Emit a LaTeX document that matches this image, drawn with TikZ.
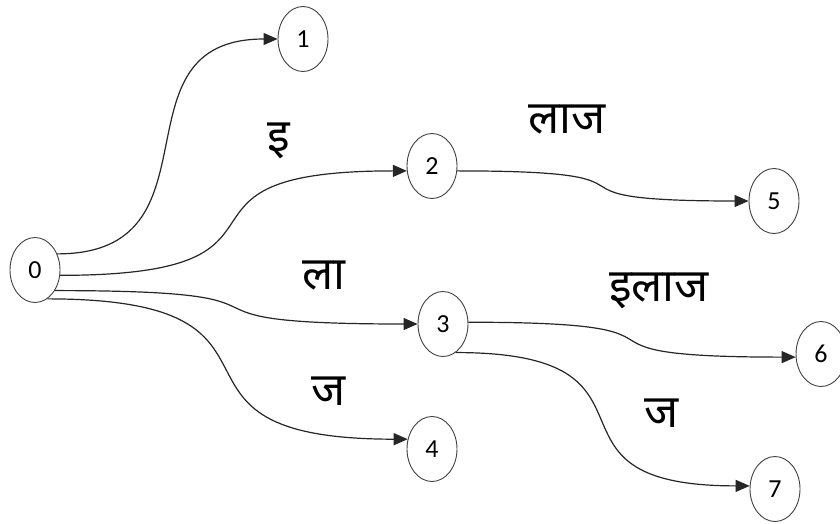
\documentclass[tikz,border=0pt]{standalone}
\usepackage{fontspec}
\usetikzlibrary{arrows.meta,shapes.geometric}
\newfontfamily\devafont[Script=Devanagari]{Noto Sans}
\newfontfamily\digitfont{Carlito}
\tikzset{
  state/.style={ellipse,draw=black!75,line width=0.9pt,minimum width=50pt,minimum height=65pt,inner sep=0pt,font=\digitfont\fontsize{26}{26}\selectfont},
  edge/.style={draw=black!85,line width=1.2pt,-{Triangle[length=14pt,width=12pt]}},
  lbl/.style={font=\devafont\fontsize{46}{46}\selectfont,inner sep=0pt}
}
\begin{document}
\begin{tikzpicture}[x=1pt,y=-1pt]
\useasboundingbox (0,0) rectangle (840,523);
\node[state] (n0) at (35,270) {0};
\node[state] (n1) at (303,39) {1};
\node[state] (n2) at (432,166) {2};
\node[state] (n3) at (443,324) {3};
\node[state] (n4) at (432,449) {4};
\node[state] (n5) at (774,201) {5};
\node[state] (n6) at (821,354) {6};
\node[state] (n7) at (775,489) {7};

\draw[edge] (n0.36) .. controls +(170,0) and +(-170,0) .. (n1.west);
\draw[edge] (n0.-12) .. controls +(270,0) and +(-270,0) .. (n2.191);
\draw[edge] (n0.-46) .. controls +(285,0) and +(-285,0) .. (n3.west);
\draw[edge] (n0.-67) .. controls +(280,0) and +(-280,0) .. (n4.158);
\draw[edge] (n2.-11) .. controls +(235,0) and +(-235,0) .. (n5.west);
\draw[edge] (n3.4) .. controls +(262,0) and +(-262,0) .. (n6.187);
\draw[edge] (n3.-66) .. controls +(230,0) and +(-230,0) .. (n7.173);

\node[lbl] (l1) at (279,141) {इ};
\node[lbl] (l2) at (567,120) {लाज};
\node[lbl] (l3) at (324,276) {ला};
\node[lbl] (l4) at (329,391) {ज};
\node[lbl] (l5) at (659,291) {इलाज};
\node[lbl] (l6) at (662,413) {ज};
\end{tikzpicture}
\end{document}
